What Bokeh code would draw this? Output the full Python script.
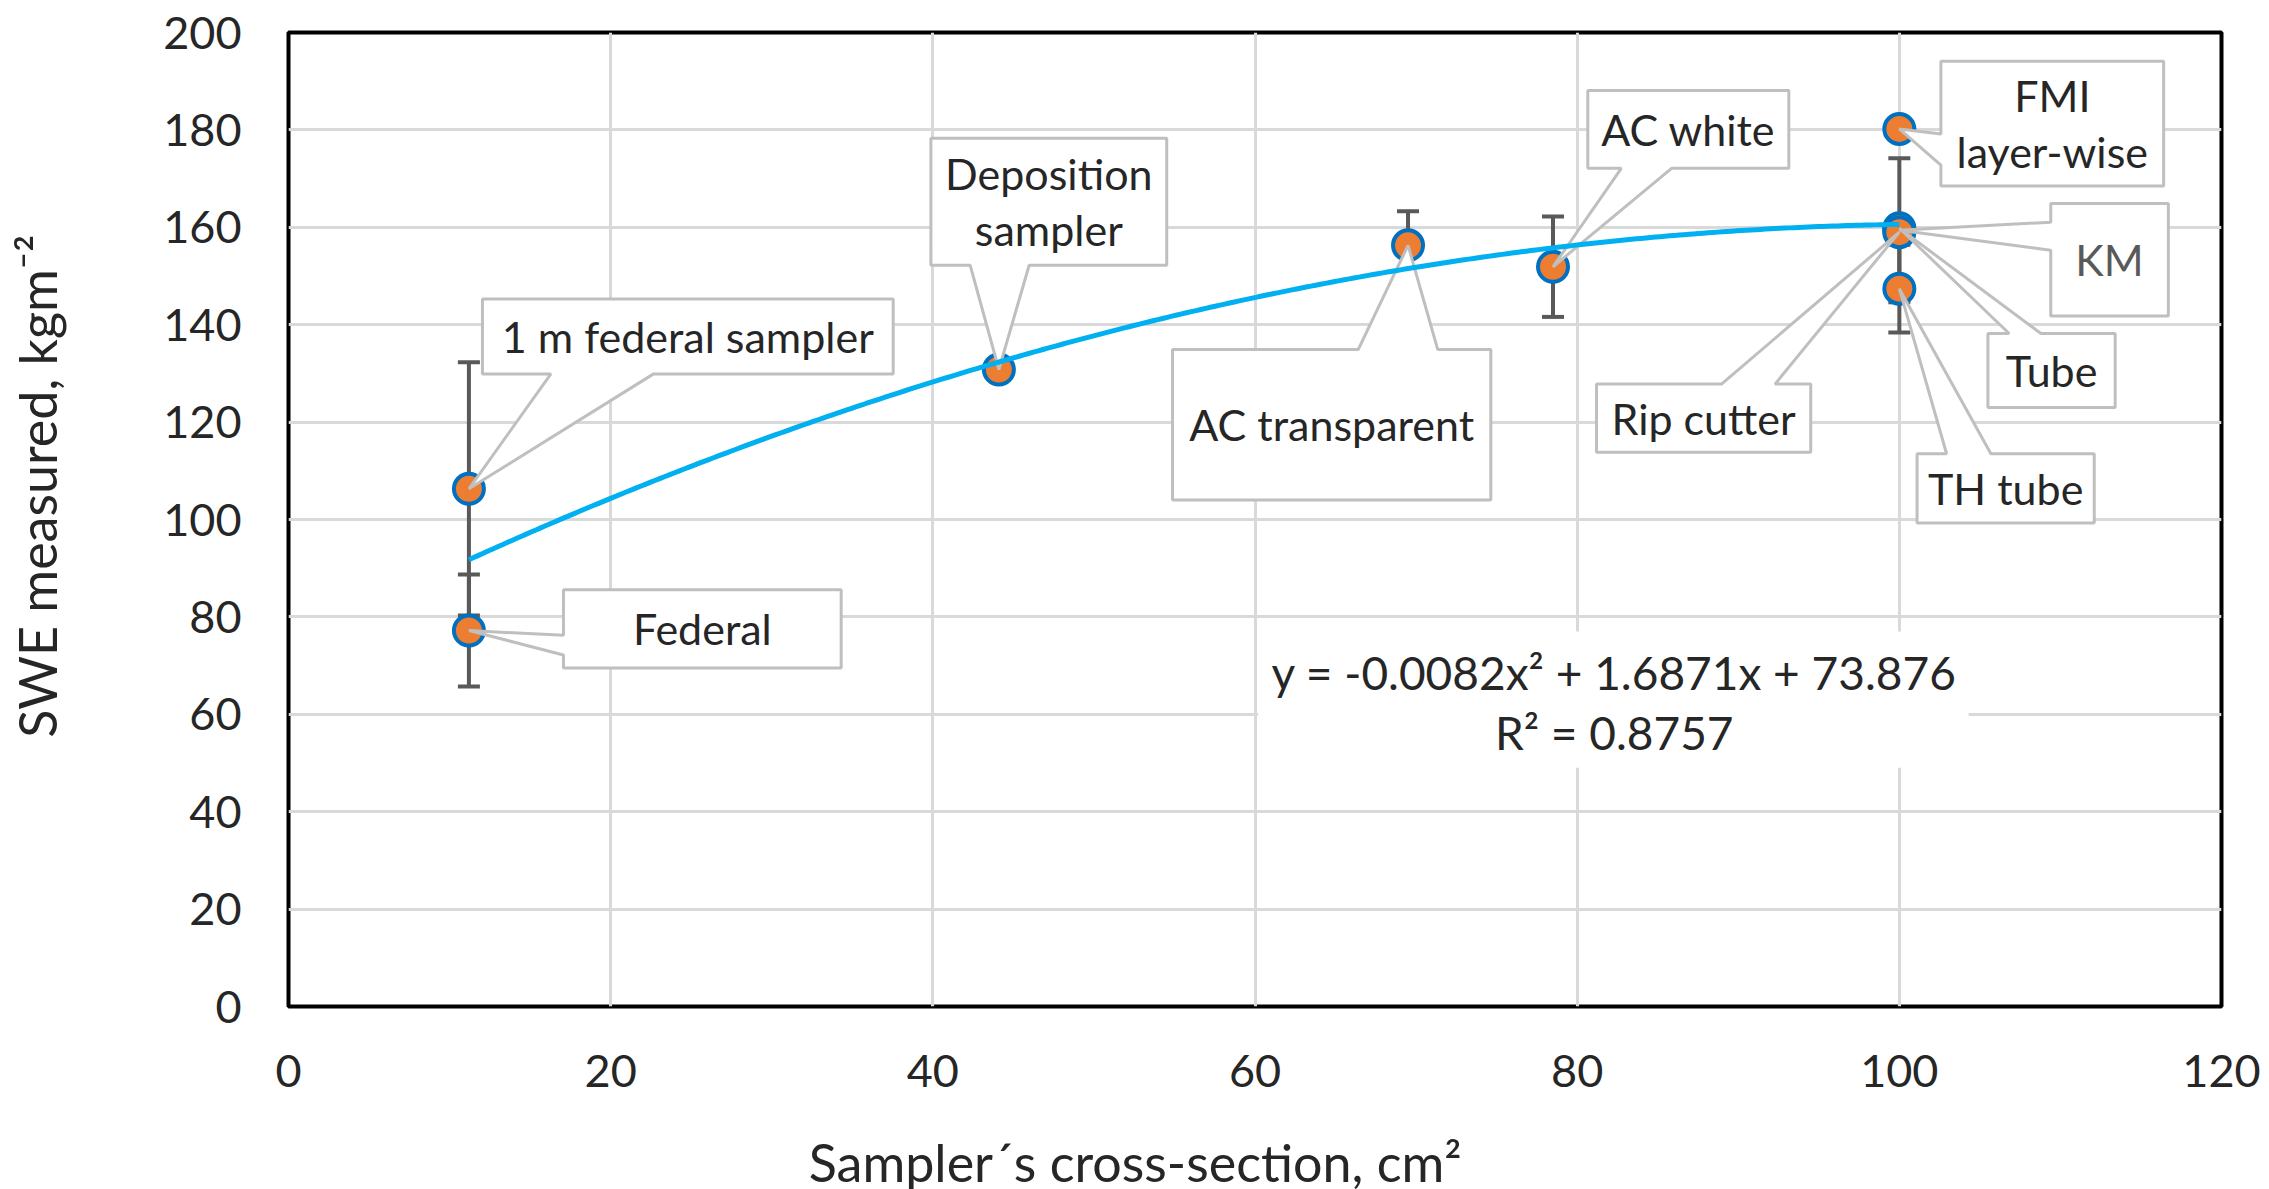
from bokeh.plotting import figure
from bokeh.models import Range1d, FixedTicker
from bokeh.embed import file_html
from bokeh.resources import INLINE
from bokeh.core.properties import value
import numpy as np

# ---------------- data ----------------
sampler_names = ["1 m federal sampler", "Federal", "Deposition sampler", "AC transparent",
                 "AC white", "FMI layer-wise", "KM", "Tube", "Rip cutter", "TH tube"]
cross_section = [11.2, 11.2, 44.1, 69.5, 78.5, 100.0, 100.0, 100.0, 100.0, 100.0]
swe_measured = [106.3, 77.2, 130.8, 156.3, 151.9, 180.2, 159.4, 159.8, 159.0, 147.4]
err_low = [26.0, 11.5, 0.0, 0.0, 10.3, 0.0, 14.8, 0.0, 0.0, 9.0]
err_high = [26.0, 11.5, 0.0, 7.0, 10.3, 0.0, 14.8, 0.0, 0.0, 9.0]
trend_coeffs = [-0.0082, 1.6871, 73.876]
trend_text = ["y = -0.0082x² + 1.6871x + 73.876", "R² = 0.8757"]
x_title = "Sampler´s cross-section, cm²"
y_title = "SWE measured, kgm⁻²"
x_ticks = [0, 20, 40, 60, 80, 100, 120]
y_ticks = [0, 20, 40, 60, 80, 100, 120, 140, 160, 180, 200]

# ---------------- label layout (callout boxes, data units) ----------------
label_lines = [["1 m federal sampler"], ["Federal"], ["Deposition", "sampler"], ["AC transparent"],
               ["AC white"], ["FMI", "layer-wise"], ["KM"], ["Tube"], ["Rip cutter"], ["TH tube"]]
box_x0 = [12.04, 17.07, 39.88, 54.88, 80.66, 102.58, 109.40, 105.50, 81.20, 101.10]
box_x1 = [37.54, 34.31, 54.52, 74.64, 93.14, 116.41, 116.70, 113.40, 94.50, 112.10]
box_y0 = [129.9, 69.5, 152.2, 104.0, 172.1, 168.5, 141.8, 123.0, 113.8, 99.3]
box_y1 = [145.3, 85.6, 178.3, 134.9, 188.1, 194.1, 164.9, 138.2, 127.8, 113.5]
label_colors = ["#262626"] * 6 + ["#595959"] + ["#262626"] * 3

FONT = "Lato"
NBSP = "\u00a0"

p = figure(frame_width=1933, frame_height=974,
           x_range=Range1d(0, 120), y_range=Range1d(0, 200),
           output_backend="svg", toolbar_location=None,
           min_border_left=288, min_border_right=40, min_border_top=32, min_border_bottom=150,
           background_fill_color="white", border_fill_color="white")

p.outline_line_color = "black"
p.outline_line_width = 4
p.grid.grid_line_color = "#D9D9D9"
p.grid.grid_line_width = 3

for ax in (p.xaxis, p.yaxis):
    ax.axis_line_color = None
    ax.major_tick_line_color = None
    ax.minor_tick_line_color = None
    ax.major_label_text_font = FONT
    ax.major_label_text_font_size = "45px"
    ax.major_label_text_color = "#262626"
    ax.axis_label_text_font = FONT
    ax.axis_label_text_font_size = "52px"
    ax.axis_label_text_font_style = "normal"
    ax.axis_label_text_color = "#262626"

p.xaxis.ticker = FixedTicker(ticks=x_ticks)
p.yaxis.ticker = FixedTicker(ticks=y_ticks)
p.xaxis.major_label_standoff = 42
p.yaxis.major_label_standoff = 41
# non-breaking padding shifts the titles off-centre as in the reference
p.xaxis.axis_label = x_title + NBSP * 18
p.yaxis.axis_label = NBSP * 5 + y_title
p.xaxis.axis_label_standoff = 41
p.yaxis.axis_label_standoff = 92

# equation background (white box covering grid)
p.quad(left=[60.2], right=[104.3], bottom=[49.0], top=[77.0],
       fill_color="white", line_color=None)

# error bars
xs = np.array(cross_section)
ys = np.array(swe_measured)
lo = ys - np.array(err_low)
hi = ys + np.array(err_high)
has = (np.array(err_low) + np.array(err_high)) > 0
p.segment(x0=xs[has], y0=lo[has], x1=xs[has], y1=hi[has], line_color="#595959", line_width=4)
p.scatter(x=xs[has], y=hi[has], marker="dash", size=22, line_color="#595959", line_width=4)
p.scatter(x=xs[has], y=lo[has], marker="dash", size=22, line_color="#595959", line_width=4)

# markers
p.scatter(x=cross_section, y=swe_measured, size=30, fill_color="#ED7D31",
          line_color="#0070C0", line_width=4)


# callouts (Office wedgeRectCallout geometry)
def callout(x0, x1, y0, y1, tx, ty):
    w, h = x1 - x0, y1 - y0
    cx, cy = (x0 + x1) / 2, (y0 + y1) / 2
    dx, dy = tx - cx, ty - cy
    pts_x, pts_y = [], []

    def add(a, b):
        pts_x.append(a)
        pts_y.append(b)

    vertical = abs(dy) / h > abs(dx) / w
    if vertical:
        if dx > 0:
            ba, bb = x0 + w * 7 / 12, x0 + w * 10 / 12
        else:
            ba, bb = x0 + w * 2 / 12, x0 + w * 5 / 12
    else:
        if dy < 0:  # tip below centre
            bhi, blo = y1 - h * 7 / 12, y1 - h * 10 / 12
        else:
            bhi, blo = y1 - h * 2 / 12, y1 - h * 5 / 12
    add(x0, y1)
    if vertical and dy > 0:
        add(ba, y1); add(tx, ty); add(bb, y1)
    add(x1, y1)
    if (not vertical) and dx > 0:
        add(x1, bhi); add(tx, ty); add(x1, blo)
    add(x1, y0)
    if vertical and dy < 0:
        add(bb, y0); add(tx, ty); add(ba, y0)
    add(x0, y0)
    if (not vertical) and dx < 0:
        add(x0, blo); add(tx, ty); add(x0, bhi)
    return pts_x, pts_y


px, py = [], []
for i in range(len(sampler_names)):
    a, b = callout(box_x0[i], box_x1[i], box_y0[i], box_y1[i], cross_section[i], swe_measured[i])
    px.append(a)
    py.append(b)
p.patches(xs=px, ys=py, fill_color="white", line_color="#BFBFBF", line_width=3)

tx, ty, tt, toff, tc = [], [], [], [], []
LINE_H = 56
for i, lines in enumerate(label_lines):
    n = len(lines)
    for j, s in enumerate(lines):
        tx.append((box_x0[i] + box_x1[i]) / 2)
        ty.append((box_y0[i] + box_y1[i]) / 2)
        tt.append(s)
        toff.append((j - (n - 1) / 2) * LINE_H)
        tc.append(label_colors[i])
p.text(x=tx, y=ty, text=tt, y_offset=toff, text_align="center", text_baseline="middle",
       text_font=value(FONT), text_font_size="43px", text_color=tc)

# trendline
xt = np.linspace(min(cross_section), max(cross_section), 300)
yt = np.polyval(trend_coeffs, xt)
p.line(xt, yt, line_color="#00B0F0", line_width=5)

# equation
p.text(x=[82.3, 82.3], y=[68.6, 56.2], text=trend_text, text_align="center",
       text_baseline="middle", text_font=value(FONT), text_font_size="46px",
       text_color="#262626")

open("out.html", "w").write(file_html(p, INLINE))
